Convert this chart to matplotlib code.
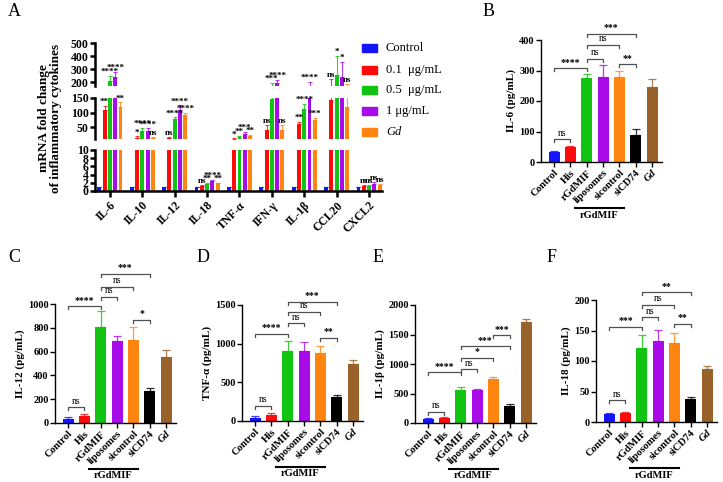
import matplotlib
matplotlib.use("Agg")
import matplotlib.pyplot as plt
from matplotlib.patches import Rectangle
from matplotlib.lines import Line2D
import matplotlib.transforms as mtransforms
import numpy as np

plt.rcParams['font.family'] = ['Liberation Serif', 'DejaVu Serif']
plt.rcParams['mathtext.fontset'] = 'stix'

# %% panel A data
cytokines = ["IL-6", "IL-10", "IL-12", "IL-18", "TNF-α", "IFN-γ", "IL-1β", "CCL20", "CXCL2"]
dose_names = ["Control", "0.1  μg/mL", "0.5  μg/mL", "1 μg/mL", "Gd"]
dose_colors = ["#1414ff", "#ff0a0a", "#12c412", "#a80ae8", "#ff8410"]

ctrl_val = [1, 1, 1, 1, 1, 1, 1, 1, 1]
ctrl_err = [0.05, 0.05, 0.05, 0.05, 0.05, 0.05, 0.05, 0.05, 0.05]
d01_val = [110, 15, 12, 1.2, 11, 40, 62, 142, 1.2]
d01_err = [12, 4, 5, 0.2, 1, 18, 6, 83, 0.2]
d05_val = [205, 38, 77, 1.8, 17, 147, 112, 255, 1.3]
d05_err = [42, 10, 7, 0.1, 3, 45, 18, 145, 0.2]
d1_val = [242, 38, 108, 2.5, 28, 195, 165, 240, 1.8]
d1_err = [35, 8, 17, 0.3, 5, 20, 35, 115, 0.4]
gd_val = [120, 14, 93, 1.9, 20, 40, 75, 120, 1.5]
gd_err = [15, 2, 7, 0.1, 5, 18, 8, 62, 0.3]

sig_d01 = ["**", "*", "ns", "ns", "*", "ns", "**", "ns", "ns"]
sig_d05 = ["****", "****", "****", "**", "**", "***", "****", "*", "ns"]
sig_d1 = ["****", "****", "****", "****", "***", "****", "****", "*", "ns"]
sig_gd = ["**", "ns", "****", "**", "**", "ns", "***", "ns", "ns"]

# %% panels B-F data
groups = ["Control", "His", "rGdMIF", "liposomes", "sicontrol", "siCD74", "Gd"]
group_colors = ["#1414ff", "#ff0a0a", "#12c412", "#a80ae8", "#ff8410", "#000000", "#98622a"]

il6_val = [33, 48, 277, 280, 278, 90, 245]
il6_err = [2, 3, 10, 37, 22, 18, 28]
il12_val = [35, 60, 810, 690, 700, 265, 555]
il12_err = [15, 15, 130, 45, 105, 30, 60]
tnf_val = [45, 75, 910, 910, 880, 305, 735]
tnf_err = [20, 25, 120, 110, 85, 25, 60]
il1b_val = [75, 80, 565, 565, 740, 290, 1710]
il1b_err = [10, 20, 50, 10, 45, 40, 60]
il18_val = [13, 14, 122, 132, 129, 37, 87]
il18_err = [2, 2, 20, 19, 17, 4, 5]

# (left group, right group, height, label)
il6_sig = [(0, 1, 75, "ns"), (0, 2, 308, "****"), (2, 3, 338, "ns"), (2, 4, 384, "ns"), (2, 5, 420, "***"), (4, 5, 321, "**")]
il12_sig = [(0, 1, 134, "ns"), (0, 2, 980, "****"), (2, 3, 1060, "ns"), (2, 4, 1146, "ns"), (2, 5, 1255, "***"), (4, 5, 866, "*")]
tnf_sig = [(0, 1, 198, "ns"), (0, 2, 1125, "****"), (2, 3, 1266, "ns"), (2, 4, 1414, "ns"), (2, 5, 1540, "***"), (4, 5, 1074, "**")]
il1b_sig = [(0, 1, 187, "ns"), (0, 2, 861, "****"), (2, 3, 907, "ns"), (2, 4, 1110, "*"), (2, 5, 1300, "***"), (4, 5, 1487, "***")]
il18_sig = [(0, 1, 36, "ns"), (0, 2, 156, "***"), (2, 3, 172, "ns"), (2, 4, 192, "ns"), (2, 5, 213, "**"), (4, 5, 161, "**")]

W, H = 723, 482
fig = plt.figure(figsize=(W / 100, H / 100), dpi=100)


def px_axes(l, t, r, b):
    return fig.add_axes([l / W, 1 - b / H, (r - l) / W, (b - t) / H])


def style_ax(ax, lw=1.0):
    for s in ["top", "right"]:
        ax.spines[s].set_visible(False)
    ax.spines["left"].set_linewidth(lw)
    ax.spines["bottom"].set_linewidth(lw)
    ax.tick_params(width=lw, length=3.5, direction="out")


# %% panel A
xa = np.arange(len(cytokines))
offs = np.array([-2, -1, 0, 1, 2]) * 0.163
vals = [ctrl_val, d01_val, d05_val, d1_val, gd_val]
errs = [ctrl_err, d01_err, d05_err, d1_err, gd_err]
sigs = [None, sig_d01, sig_d05, sig_d1, sig_gd]

axA_top = px_axes(95, 43, 382, 86)
axA_mid = px_axes(95, 98, 382, 139)
axA_bot = px_axes(95, 150, 382, 191)
seg_lims = [(170, 500), (10, 150), (0, 10)]
seg_ticks = [[200, 300, 400, 500], [50, 100, 150], [0, 2, 4, 6, 8, 10]]
for ax, lim, tk in zip([axA_top, axA_mid, axA_bot], seg_lims, seg_ticks):
    for k in range(5):
        ax.bar(xa + offs[k], vals[k], 0.12, color=dose_colors[k], zorder=2)
        ax.errorbar(xa + offs[k], vals[k], yerr=[np.zeros(len(xa)), errs[k]], fmt="none",
                    ecolor=dose_colors[k], elinewidth=0.8, capsize=1.5, capthick=0.8, alpha=0.8)
    ax.set_ylim(*lim)
    ax.set_xlim(-0.46, 8.4)
    ax.set_yticks(tk)
    style_ax(ax, lw=1.8)
    ax.spines["bottom"].set_visible(False)
    ax.tick_params(axis="y", labelsize=8.5, pad=1)
    for lab in ax.get_yticklabels():
        lab.set_fontweight("bold")
    ax.set_xticks([])
    ax.patch.set_alpha(0)
axA_bot.spines["bottom"].set_visible(True)
axA_bot.set_xticks(xa)
axA_bot.set_xticklabels(cytokines, rotation=45, ha="right", rotation_mode="anchor",
                        fontsize=8.5, fontweight="bold")
axA_bot.tick_params(axis="x", length=4, width=1.8, pad=2)

for k in range(1, 5):
    for i in range(len(cytokines)):
        top = vals[k][i] + errs[k][i]
        if top <= 10:
            ax, y = axA_bot, top
        elif top <= 150:
            ax, y = axA_mid, top
        else:
            ax, y = axA_top, max(top, 170)
        ax.annotate(sigs[k][i], (xa[i] + offs[k], y), xytext=(0, 0), textcoords="offset points",
                    ha="center", va="bottom", fontsize=6.5, fontweight="bold", annotation_clip=False)

fig.text(50 / W, 1 - 118 / H, "mRNA fold change\nof inflammatory cytokines", rotation=90,
         ha="center", va="center", multialignment="center", fontsize=9.5, fontweight="bold",
         linespacing=1.05)

# legend
leg_y = [48, 70, 90, 111, 132]
for k in range(5):
    fig.patches.append(Rectangle((362 / W, 1 - (leg_y[k] + 4) / H), 15 / W, 8 / H,
                                 transform=fig.transFigure, color=dose_colors[k]))
    fig.text(386 / W, 1 - leg_y[k] / H, dose_names[k], ha="left", va="center", fontsize=9,
             style="italic" if dose_names[k] == "Gd" else "normal")


# %% panels B-F
def bar_panel(box, vals, errs, ylab, ymax, yticks, sig):
    ax = px_axes(*box)
    x = np.arange(len(groups))
    ax.bar(x, vals, 0.68, color=group_colors, zorder=2)
    for i in range(len(x)):
        ax.errorbar(x[i], vals[i], yerr=[[0], [errs[i]]], fmt="none", ecolor=group_colors[i],
                    elinewidth=0.9, capsize=3, capthick=0.9, alpha=0.8)
    ax.set_xlim(-0.8, 6.6)
    ax.set_ylim(0, ymax)
    ax.set_yticks(yticks)
    style_ax(ax, lw=1.0)
    ax.tick_params(axis="both", labelsize=7.5, pad=1)
    for lab in ax.get_yticklabels():
        lab.set_fontweight("bold")
    ax.set_xticks(x)
    ax.set_xticklabels(groups, rotation=45, ha="right", rotation_mode="anchor",
                       fontsize=7.5, fontweight="bold")
    ax.get_xticklabels()[-1].set_style("italic")
    ax.set_ylabel(ylab, fontsize=8, fontweight="bold", labelpad=2)
    hpx = box[3] - box[1]
    h = 3 * ymax / hpx
    for i, j, y, lab in sig:
        ax.plot([i, i, j, j], [y - h, y, y, y - h], color="#505050", lw=0.9, clip_on=False)
        ax.text((i + j) / 2, y + 0.5 * h, lab, ha="center", va="bottom", fontsize=7,
                fontweight="bold" if "*" in lab else "normal", clip_on=False)
    trans = mtransforms.blended_transform_factory(ax.transData, ax.transAxes)
    ax.add_line(Line2D([1.25, 4.3], [-46 / hpx, -46 / hpx], transform=trans, color="black",
                       lw=1.5, clip_on=False))
    ax.text(2.78, -53 / hpx, "rGdMIF", transform=trans, ha="center", va="center", fontsize=7.5,
            fontweight="bold")
    return ax


bar_panel((541, 40, 662, 162), il6_val, il6_err, "IL-6 (pg/mL)", 400, [0, 100, 200, 300, 400], il6_sig)
bar_panel((55, 304, 176, 423), il12_val, il12_err, "IL-12 (pg/mL)", 1000, [0, 200, 400, 600, 800, 1000], il12_sig)
bar_panel((242, 305, 363, 421), tnf_val, tnf_err, "TNF-α (pg/mL)", 1500, [0, 500, 1000, 1500], tnf_sig)
bar_panel((415, 305, 536, 423), il1b_val, il1b_err, "IL-1β (pg/mL)", 2000, [0, 500, 1000, 1500, 2000], il1b_sig)
bar_panel((596, 300, 717, 422), il18_val, il18_err, "IL-18 (pg/mL)", 200, [0, 50, 100, 150, 200], il18_sig)

# panel letters
for lab, (x, y) in zip("ABCDEF", [(14, 12), (489, 12), (14, 257), (203, 257), (378, 257), (552, 257)]):
    fig.text(x / W, 1 - y / H, lab, ha="center", va="center", fontsize=13)

fig.savefig("out.png", dpi=100)
